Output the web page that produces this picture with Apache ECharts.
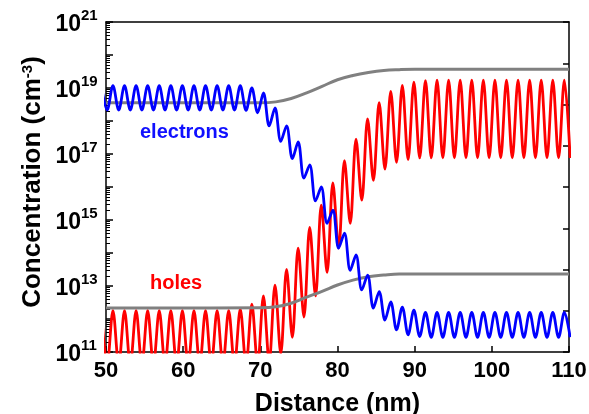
<!DOCTYPE html>
<html>
<head>
<meta charset="utf-8">
<script src="https://cdn.jsdelivr.net/npm/echarts@6/dist/echarts.min.js"></script>
<style>
  html, body { margin: 0; padding: 0; background: #fff; }
  #chart { width: 589px; height: 414px; }
</style>
</head>
<body>
<div id="chart"></div>
<script>
const FONT = "'Liberation Sans', Arial, Helvetica, sans-serif";

// Positions (nm) of the successive maxima and minima of the oscillating carrier profiles
const extremaX = [
  49.4, 50.15, 50.9, 51.65, 52.4, 53.15, 53.9, 54.65, 55.4, 56.15,
  56.9, 57.65, 58.4, 59.15, 59.9, 60.65, 61.4, 62.15, 62.9, 63.65,
  64.4, 65.15, 65.9, 66.65, 67.4, 68.15, 68.9, 69.65, 70.4, 71.15,
  71.9, 72.65, 73.4, 74.15, 74.9, 75.65, 76.4, 77.15, 77.9, 78.65,
  79.4, 80.15, 80.9, 81.65, 82.4, 83.15, 83.9, 84.65, 85.4, 86.15,
  86.9, 87.65, 88.4, 89.15, 89.9, 90.65, 91.4, 92.15, 92.9, 93.65,
  94.4, 95.15, 95.9, 96.65, 97.4, 98.15, 98.9, 99.65, 100.4, 101.15,
  101.9, 102.65, 103.4, 104.15, 104.9, 105.65, 106.4, 107.15, 107.9, 108.65,
  109.4, 110.15
];

// Electron concentration (cm^-3) at each extremum
const electrons = [
  1.17e19, 2.14e18, 1.17e19, 2.14e18, 1.17e19, 2.14e18, 1.17e19, 2.14e18, 1.17e19, 2.14e18,
  1.17e19, 2.14e18, 1.17e19, 2.14e18, 1.17e19, 2.14e18, 1.17e19, 2.14e18, 1.17e19, 2.14e18,
  1.17e19, 2.14e18, 1.17e19, 2.14e18, 1.17e19, 2.1e18, 1.0e19, 1.78e18, 7.1e18, 7.1e17,
  2.5e18, 2.4e17, 7.1e17, 7.2e16, 2.34e17, 1.86e16, 4.7e16, 3.8e15, 1.0e16, 7.9e14,
  2.0e15, 1.41e14, 4.0e14, 3.0e13, 8.7e13, 7.6e12, 2.14e13, 2.14e12, 6.8e12, 9.3e11,
  3.3e12, 4.7e11, 2.3e12, 3.3e11, 1.86e12, 2.95e11, 1.58e12, 2.8e11, 1.58e12, 2.8e11,
  1.58e12, 2.8e11, 1.58e12, 2.8e11, 1.58e12, 2.8e11, 1.58e12, 2.8e11, 1.58e12, 2.8e11,
  1.58e12, 2.8e11, 1.58e12, 2.8e11, 1.58e12, 2.8e11, 1.58e12, 2.8e11, 1.58e12, 2.8e11,
  1.58e12, 2.8e11
];

// Hole concentration (cm^-3) at each extremum
const holes = [
  1.78e12, 4e10, 1.78e12, 4e10, 1.78e12, 4e10, 1.78e12, 4e10, 1.78e12, 4e10,
  1.78e12, 4e10, 1.78e12, 4e10, 1.78e12, 4e10, 1.78e12, 4e10, 1.78e12, 4e10,
  1.78e12, 4e10, 1.78e12, 4e10, 2.0e12, 4e10, 2.8e12, 4e10, 5.0e12, 5e10,
  1.07e13, 9e10, 3.16e13, 2.8e11, 1.41e14, 1.15e12, 6.0e14, 5.0e12, 2.8e15, 2.6e13,
  1.32e16, 1.41e14, 6.3e16, 7.9e14, 2.8e17, 4.0e15, 1.15e18, 1.58e16, 3.6e18, 3.5e16,
  7.9e18, 5.6e16, 1.2e19, 6.8e16, 1.5e19, 7.6e16, 1.66e19, 7.6e16, 1.74e19, 7.6e16,
  1.74e19, 7.6e16, 1.74e19, 7.6e16, 1.74e19, 7.6e16, 1.74e19, 7.6e16, 1.74e19, 7.6e16,
  1.74e19, 7.6e16, 1.74e19, 7.6e16, 1.74e19, 7.6e16, 1.74e19, 7.6e16, 1.74e19, 7.6e16,
  1.74e19, 7.6e16
];

// Smooth reference profiles (grey)
const bandX = [50, 70, 72, 74, 76, 78, 80, 82, 84, 86, 88, 90, 110];
const upperBand = [3.55e18, 3.55e18, 3.8e18, 4.8e18, 7.1e18, 1.12e19, 1.78e19, 2.4e19, 2.95e19, 3.4e19, 3.6e19, 3.7e19, 3.7e19];
const lowerBand = [2.14e12, 2.19e12, 2.34e12, 3.0e12, 4.6e12, 6.9e12, 1.07e13, 1.51e13, 1.9e13, 2.14e13, 2.3e13, 2.3e13, 2.3e13];

// Decade ticks of the concentration axis, and the exponents that carry a label
const decades = [11, 12, 13, 14, 15, 16, 17, 18, 19, 20, 21];
const labelledExponents = [11, 13, 15, 17, 19, 21];

const pairs = (xs, ys) => xs.map((x, i) => [x, ys[i]]);

const minorTicks = [];
decades.slice(0, -1).forEach(e => {
  for (let m = 2; m <= 9; m++) minorTicks.push(m * Math.pow(10, e));
});

const black = '#000';
const labelBase = { fontFamily: FONT, fontWeight: 'bold', color: black };
const GRID = { left: 106, right: 20, top: 22, bottom: 62 };

const chart = echarts.init(document.getElementById('chart'), null, { renderer: 'canvas' });

chart.setOption({
  animation: false,
  backgroundColor: '#fff',
  grid: Object.assign({ containLabel: false, outerBoundsMode: 'none' }, GRID),
  xAxis: [
    {
      type: 'value', min: 50, max: 110, interval: 10, position: 'bottom',
      axisLine: { lineStyle: { color: black, width: 1.5 } },
      axisTick: { inside: true, length: 6, lineStyle: { color: black, width: 1.5 } },
      axisLabel: Object.assign({ fontSize: 22, margin: 8 }, labelBase),
      splitLine: { show: false },
      name: 'Distance (nm)', nameLocation: 'middle', nameGap: 40,
      nameTextStyle: Object.assign({ fontSize: 25 }, labelBase)
    },
    {
      type: 'value', min: 50, max: 110, interval: 10, position: 'top',
      axisLine: { lineStyle: { color: black, width: 1.5 } },
      axisTick: { show: false }, axisLabel: { show: false }, splitLine: { show: false }
    }
  ],
  yAxis: [
    {
      type: 'log', logBase: 10, min: 1e11, max: 1e21, interval: 1, position: 'left',
      axisLine: { lineStyle: { color: black, width: 1.5 } },
      axisTick: { inside: true, length: 7, lineStyle: { color: black, width: 1.5 } },
      axisLabel: { show: false },
      splitLine: { show: false },
      name: 'Concentration (cm{s|-3})', nameLocation: 'middle', nameRotate: 90, nameGap: 60,
      nameTextStyle: Object.assign({
        fontSize: 26,
        padding: [0, 0, 0, 10],
        rich: {
          s: Object.assign({ fontSize: 15, lineHeight: 15, verticalAlign: 'top' }, labelBase)
        }
      }, labelBase)
    },
    {
      type: 'log', logBase: 10, min: 1e11, max: 1e21, position: 'left',
      axisLine: { show: false },
      axisTick: { inside: true, length: 4, customValues: minorTicks, lineStyle: { color: black, width: 1 } },
      axisLabel: { show: false }, splitLine: { show: false }
    },
    {
      type: 'value', min: 0, max: 8, interval: 1, position: 'right',
      axisLine: { lineStyle: { color: black, width: 1.5 } },
      axisTick: { inside: true, length: 6, lineStyle: { color: black, width: 1.5 } },
      axisLabel: { show: false }, splitLine: { show: false }
    }
  ],
  series: [
    {
      name: 'upper', type: 'line', data: pairs(bandX, upperBand), smooth: 0.4,
      showSymbol: false, clip: true, lineStyle: { color: '#808080', width: 3 }, z: 3
    },
    {
      name: 'lower', type: 'line', data: pairs(bandX, lowerBand), smooth: 0.4,
      showSymbol: false, clip: true, lineStyle: { color: '#808080', width: 3 }, z: 3
    },
    {
      name: 'holes', type: 'line', data: pairs(extremaX, holes), smooth: 0.33,
      showSymbol: false, clip: true, lineStyle: { color: '#ff0000', width: 2.8 }, z: 2
    },
    {
      name: 'electrons', type: 'line', data: pairs(extremaX, electrons), smooth: 0.33,
      showSymbol: false, clip: true, lineStyle: { color: '#0000ff', width: 2.8 }, z: 4
    }
  ]
});

// Power-of-ten tick labels (base + raised exponent), anchored on the log axis
const baseRight = GRID.left - 25;
const tickLabels = [];
labelledExponents.forEach(e => {
  const y = chart.convertToPixel({ yAxisIndex: 0 }, Math.pow(10, e));
  tickLabels.push({
    type: 'text', x: baseRight, y: y + 2.5,
    style: { text: '10', fill: black, font: 'bold 23px ' + FONT, textAlign: 'right', textVerticalAlign: 'middle' }
  });
  tickLabels.push({
    type: 'text', x: baseRight, y: y - 6,
    style: { text: String(e), fill: black, font: 'bold 15px ' + FONT, textAlign: 'left', textVerticalAlign: 'middle' }
  });
});

// Series captions placed in data coordinates
const captions = [
  { text: 'electrons', at: [54.4, 4.4e17], color: '#1010ff' },
  { text: 'holes', at: [55.7, 1.23e13], color: '#ff0000' }
];
const captionTexts = captions.map(c => {
  const p = chart.convertToPixel({ xAxisIndex: 0, yAxisIndex: 0 }, c.at);
  return {
    type: 'text', x: p[0], y: p[1],
    style: {
      text: c.text, fill: c.color, font: 'bold 20px ' + FONT,
      textAlign: 'left', textVerticalAlign: 'middle'
    }
  };
});

chart.setOption({ graphic: tickLabels.concat(captionTexts) });
</script>
</body>
</html>
